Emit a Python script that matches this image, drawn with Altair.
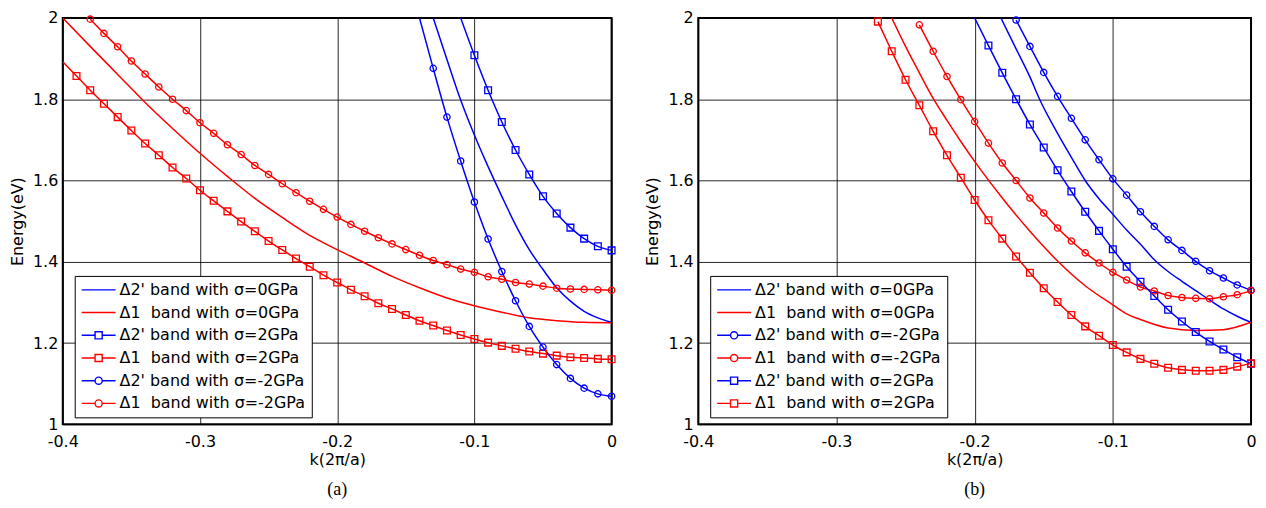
import altair as alt
import pandas as pd

BLUE = "#0000ff"
RED = "#ff0000"

# ---- series labels ----
L_D2_0 = "Δ2' band with σ=0GPa"
L_D1_0 = "Δ1\u00a0 band with σ=0GPa"
L_D2_P2 = "Δ2' band with σ=2GPa"
L_D1_P2 = "Δ1\u00a0 band with σ=2GPa"
L_D2_M2 = "Δ2' band with σ=-2GPa"
L_D1_M2 = "Δ1\u00a0 band with σ=-2GPa"

X_TICKS = [-0.4, -0.3, -0.2, -0.1, 0.0]
Y_TICKS = [1.0, 1.2, 1.4, 1.6, 1.8, 2.0]

# ================= panel (a) =================
A_D2_0_K = [-0.130, -0.12, -0.11, -0.10, -0.09, -0.08, -0.07, -0.06, -0.05, -0.04, -0.03, -0.02, -0.01, 0.0]
A_D2_0_E = [2.0, 1.898, 1.798, 1.712, 1.634, 1.561, 1.491, 1.430, 1.381, 1.336, 1.303, 1.278, 1.262, 1.251]

A_D1_0_K = [-0.40, -0.38, -0.36, -0.34, -0.32, -0.30, -0.28, -0.26, -0.24, -0.22, -0.20,
            -0.18, -0.16, -0.14, -0.12, -0.10, -0.08, -0.06, -0.04, -0.02, 0.0]
A_D1_0_E = [2.0, 1.93, 1.861, 1.792, 1.728, 1.667, 1.61, 1.556, 1.509, 1.465, 1.430,
            1.397, 1.364, 1.336, 1.311, 1.292, 1.276, 1.262, 1.255, 1.251, 1.250]

A_D2_P2_EDGE_K = [-0.110]
A_D2_P2_EDGE_E = [2.0]
A_D2_P2_K = [-0.10, -0.09, -0.08, -0.07, -0.06, -0.05, -0.04, -0.03, -0.02, -0.01, 0.0]
A_D2_P2_E = [1.908, 1.822, 1.744, 1.675, 1.615, 1.561, 1.519, 1.484, 1.457, 1.438, 1.428]

A_D1_P2_EDGE_K = [-0.40]
A_D1_P2_EDGE_E = [1.892]
A_D1_P2_K = [-0.39, -0.38, -0.37, -0.36, -0.35, -0.34, -0.33, -0.32, -0.31, -0.30,
             -0.29, -0.28, -0.27, -0.26, -0.25, -0.24, -0.23, -0.22, -0.21, -0.20,
             -0.19, -0.18, -0.17, -0.16, -0.15, -0.14, -0.13, -0.12, -0.11, -0.10,
             -0.09, -0.08, -0.07, -0.06, -0.05, -0.04, -0.03, -0.02, -0.01, 0.0]
A_D1_P2_E = [1.857, 1.822, 1.789, 1.756, 1.723, 1.691, 1.662, 1.632, 1.605, 1.576,
             1.550, 1.524, 1.499, 1.475, 1.451, 1.429, 1.408, 1.388, 1.367, 1.349,
             1.331, 1.315, 1.298, 1.284, 1.269, 1.255, 1.243, 1.231, 1.220, 1.210,
             1.201, 1.193, 1.186, 1.179, 1.174, 1.169, 1.165, 1.163, 1.161, 1.160]

A_D2_M2_EDGE_K = [-0.140]
A_D2_M2_EDGE_E = [2.0]
A_D2_M2_K = [-0.13, -0.12, -0.11, -0.10, -0.09, -0.08, -0.07, -0.06, -0.05, -0.04, -0.03, -0.02, -0.01, 0.0]
A_D2_M2_E = [1.876, 1.756, 1.648, 1.547, 1.456, 1.376, 1.304, 1.241, 1.190, 1.147, 1.113, 1.089, 1.075, 1.069]

A_D1_M2_K = [-0.38, -0.37, -0.36, -0.35, -0.34, -0.33, -0.32, -0.31, -0.30,
             -0.29, -0.28, -0.27, -0.26, -0.25, -0.24, -0.23, -0.22, -0.21, -0.20,
             -0.19, -0.18, -0.17, -0.16, -0.15, -0.14, -0.13, -0.12, -0.11, -0.10,
             -0.09, -0.08, -0.07, -0.06, -0.05, -0.04, -0.03, -0.02, -0.01, 0.0]
A_D1_M2_E = [1.997, 1.962, 1.929, 1.894, 1.862, 1.830, 1.800, 1.772, 1.742,
             1.716, 1.688, 1.664, 1.637, 1.615, 1.592, 1.570, 1.549, 1.529, 1.510,
             1.492, 1.475, 1.459, 1.444, 1.430, 1.416, 1.403, 1.393, 1.382, 1.374,
             1.363, 1.357, 1.349, 1.345, 1.340, 1.335, 1.333, 1.332, 1.331, 1.330]

# ================= panel (b) =================
B_D2_0_K = [-0.181, -0.17, -0.16, -0.153, -0.14, -0.13, -0.12, -0.11, -0.10, -0.09,
            -0.08, -0.07, -0.06, -0.05, -0.04, -0.03, -0.02, -0.01, 0.0]
B_D2_0_E = [2.0, 1.924, 1.855, 1.80, 1.716, 1.657, 1.600, 1.555, 1.517, 1.478,
            1.443, 1.405, 1.376, 1.352, 1.329, 1.306, 1.284, 1.266, 1.251]

B_D1_0_K = [-0.26, -0.25, -0.24, -0.23, -0.22, -0.21, -0.20, -0.18, -0.16, -0.14,
            -0.12, -0.10, -0.09, -0.08, -0.06, -0.04, -0.02, 0.0]
B_D1_0_E = [2.0, 1.93, 1.865, 1.802, 1.748, 1.696, 1.647, 1.557, 1.475, 1.402,
            1.341, 1.294, 1.272, 1.258, 1.237, 1.231, 1.233, 1.251]

B_D2_P2_EDGE_K = [-0.20]
B_D2_P2_EDGE_E = [2.0]
B_D2_P2_K = [-0.19, -0.18, -0.17, -0.16, -0.15, -0.14, -0.13, -0.12, -0.11, -0.10,
             -0.09, -0.08, -0.07, -0.06, -0.05, -0.04, -0.03, -0.02, -0.01, 0.0]
B_D2_P2_E = [1.932, 1.865, 1.800, 1.738, 1.681, 1.625, 1.573, 1.523, 1.476, 1.431,
             1.388, 1.351, 1.316, 1.282, 1.253, 1.227, 1.204, 1.184, 1.165, 1.149]

B_D1_P2_K = [-0.27, -0.26, -0.25, -0.24, -0.23, -0.22, -0.21, -0.20,
             -0.19, -0.18, -0.17, -0.16, -0.15, -0.14, -0.13, -0.12, -0.11, -0.10,
             -0.09, -0.08, -0.07, -0.06, -0.05, -0.04, -0.03, -0.02, -0.01, 0.0]
B_D1_P2_E = [1.991, 1.918, 1.848, 1.785, 1.721, 1.662, 1.607, 1.552,
             1.502, 1.457, 1.413, 1.373, 1.335, 1.301, 1.269, 1.241, 1.218, 1.195,
             1.177, 1.161, 1.149, 1.139, 1.134, 1.132, 1.132, 1.134, 1.142, 1.150]

B_D2_M2_K = [-0.17, -0.16, -0.15, -0.14, -0.13, -0.12, -0.11, -0.10,
             -0.09, -0.08, -0.07, -0.06, -0.05, -0.04, -0.03, -0.02, -0.01, 0.0]
B_D2_M2_E = [1.995, 1.930, 1.866, 1.807, 1.753, 1.700, 1.651, 1.604,
             1.564, 1.523, 1.487, 1.454, 1.428, 1.401, 1.378, 1.360, 1.343, 1.330]

B_D1_M2_K = [-0.24, -0.23, -0.22, -0.21, -0.20, -0.19, -0.18, -0.17, -0.16, -0.15,
             -0.14, -0.13, -0.12, -0.11, -0.10, -0.09, -0.08, -0.07, -0.06, -0.05,
             -0.04, -0.03, -0.02, -0.01, 0.0]
B_D1_M2_E = [1.983, 1.918, 1.856, 1.799, 1.745, 1.692, 1.643, 1.600, 1.557, 1.520,
             1.483, 1.451, 1.422, 1.397, 1.374, 1.355, 1.338, 1.328, 1.317, 1.312,
             1.310, 1.309, 1.314, 1.319, 1.329]

# ---- styling ----
FONT = "DejaVu Sans"
SERIF = "Liberation Serif"
COLOR_OF = {L_D2_0: BLUE, L_D1_0: RED, L_D2_P2: BLUE, L_D1_P2: RED, L_D2_M2: BLUE, L_D1_M2: RED}
P_LINE = "M-1,0H1"
P_SQ = "M-1,0H-0.21M0.21,0H1M-0.21,-0.21H0.21V0.21H-0.21Z"
P_CI = "M-1,0H-0.21M0.21,0H1M-0.21,0A0.21,0.21,0,1,1,0.21,0A0.21,0.21,0,1,1,-0.21,0Z"
SHAPE_OF = {L_D2_0: P_LINE, L_D1_0: P_LINE, L_D2_P2: P_SQ, L_D1_P2: P_SQ, L_D2_M2: P_CI, L_D1_M2: P_CI}


def frame(label, k, e):
    return pd.DataFrame({"series": label, "k": k, "E": e})


def panel(lines, squares, circles, order, caption, width):
    line_df = pd.concat(lines, ignore_index=True)
    sq_df = pd.concat(squares, ignore_index=True)
    ci_df = pd.concat(circles, ignore_index=True)
    names_df = pd.DataFrame({"series": order})

    cscale = alt.Scale(domain=order, range=[COLOR_OF[s] for s in order])
    sscale = alt.Scale(domain=order, range=[SHAPE_OF[s] for s in order])
    leg = alt.Legend(
        title=None, orient="none", legendX=12, legendY=259,
        clipHeight=16, rowPadding=6.8, padding=6, labelOffset=3,
        symbolSize=1156, symbolStrokeWidth=1.4, symbolOffset=0,
        labelFont=FONT, labelFontSize=16, labelColor="black", labelLimit=400,
        fillColor="white", strokeColor="black",
    )
    xenc = alt.X("k:Q", scale=alt.Scale(domain=[-0.4, 0.0], nice=False, zero=False),
                 axis=alt.Axis(values=X_TICKS, labelExpr="'' + datum.value", title="k(2π/a)"))
    yenc = alt.Y("E:Q", scale=alt.Scale(domain=[1.0, 2.0], nice=False, zero=False),
                 axis=alt.Axis(values=Y_TICKS, labelExpr="'' + datum.value", title="Energy(eV)"))
    col = alt.Color("series:N", scale=cscale, legend=leg)

    base_line = alt.Chart(line_df).mark_line(clip=True, strokeWidth=1.5, interpolate="monotone").encode(
        x=xenc, y=yenc, color=col, detail="series:N")
    sq = alt.Chart(sq_df).mark_point(shape="square", filled=False, size=46, strokeWidth=1.3, opacity=1).encode(
        x=xenc, y=yenc, color=col)
    ci = alt.Chart(ci_df).mark_point(shape="circle", filled=False, size=40, strokeWidth=1.3, opacity=1).encode(
        x=xenc, y=yenc, color=col)
    legend_layer = alt.Chart(names_df).transform_filter("false").mark_point(filled=False, strokeWidth=1.4).encode(
        color=col, shape=alt.Shape("series:N", scale=sscale, legend=leg))

    return alt.layer(base_line, sq, ci, legend_layer).properties(
        width=width, height=408,
        title=alt.TitleParams(caption, orient="bottom", font=SERIF, fontSize=18,
                              fontWeight="normal", color="black", offset=14),
    )


pa = panel(
    lines=[frame(L_D2_0, A_D2_0_K, A_D2_0_E), frame(L_D1_0, A_D1_0_K, A_D1_0_E),
           frame(L_D2_P2, A_D2_P2_EDGE_K + A_D2_P2_K, A_D2_P2_EDGE_E + A_D2_P2_E),
           frame(L_D1_P2, A_D1_P2_EDGE_K + A_D1_P2_K, A_D1_P2_EDGE_E + A_D1_P2_E),
           frame(L_D2_M2, A_D2_M2_EDGE_K + A_D2_M2_K, A_D2_M2_EDGE_E + A_D2_M2_E),
           frame(L_D1_M2, A_D1_M2_K, A_D1_M2_E)],
    squares=[frame(L_D2_P2, A_D2_P2_K, A_D2_P2_E), frame(L_D1_P2, A_D1_P2_K, A_D1_P2_E)],
    circles=[frame(L_D2_M2, A_D2_M2_K, A_D2_M2_E), frame(L_D1_M2, A_D1_M2_K, A_D1_M2_E)],
    order=[L_D2_0, L_D1_0, L_D2_P2, L_D1_P2, L_D2_M2, L_D1_M2],
    caption="(a)", width=551,
)

pb = panel(
    lines=[frame(L_D2_0, B_D2_0_K, B_D2_0_E), frame(L_D1_0, B_D1_0_K, B_D1_0_E),
           frame(L_D2_M2, B_D2_M2_K, B_D2_M2_E), frame(L_D1_M2, B_D1_M2_K, B_D1_M2_E),
           frame(L_D2_P2, B_D2_P2_EDGE_K + B_D2_P2_K, B_D2_P2_EDGE_E + B_D2_P2_E),
           frame(L_D1_P2, B_D1_P2_K, B_D1_P2_E)],
    squares=[frame(L_D2_P2, B_D2_P2_K, B_D2_P2_E), frame(L_D1_P2, B_D1_P2_K, B_D1_P2_E)],
    circles=[frame(L_D2_M2, B_D2_M2_K, B_D2_M2_E), frame(L_D1_M2, B_D1_M2_K, B_D1_M2_E)],
    order=[L_D2_0, L_D1_0, L_D2_M2, L_D1_M2, L_D2_P2, L_D1_P2],
    caption="(b)", width=555,
)

chart = alt.hconcat(pa, pb, spacing=25).resolve_scale(
    color="independent", shape="independent"
).resolve_legend(color="independent", shape="independent").configure(
    padding=0, background="white"
).configure_view(
    stroke="black", strokeWidth=2
).configure_axis(
    grid=True, gridColor="black", gridWidth=1, gridOpacity=0.85,
    ticks=False, domain=False, labelFlush=False, labelOverlap=False,
    labelFont=FONT, labelFontSize=16, labelColor="black",
    titleFont=FONT, titleFontSize=16, titleFontWeight="normal", titleColor="black",
).configure_axisX(
    labelPadding=9, titlePadding=2
).configure_axisY(
    labelPadding=5, titlePadding=7
)

chart.save("out.html", embed_options={"renderer": "svg", "actions": False})
